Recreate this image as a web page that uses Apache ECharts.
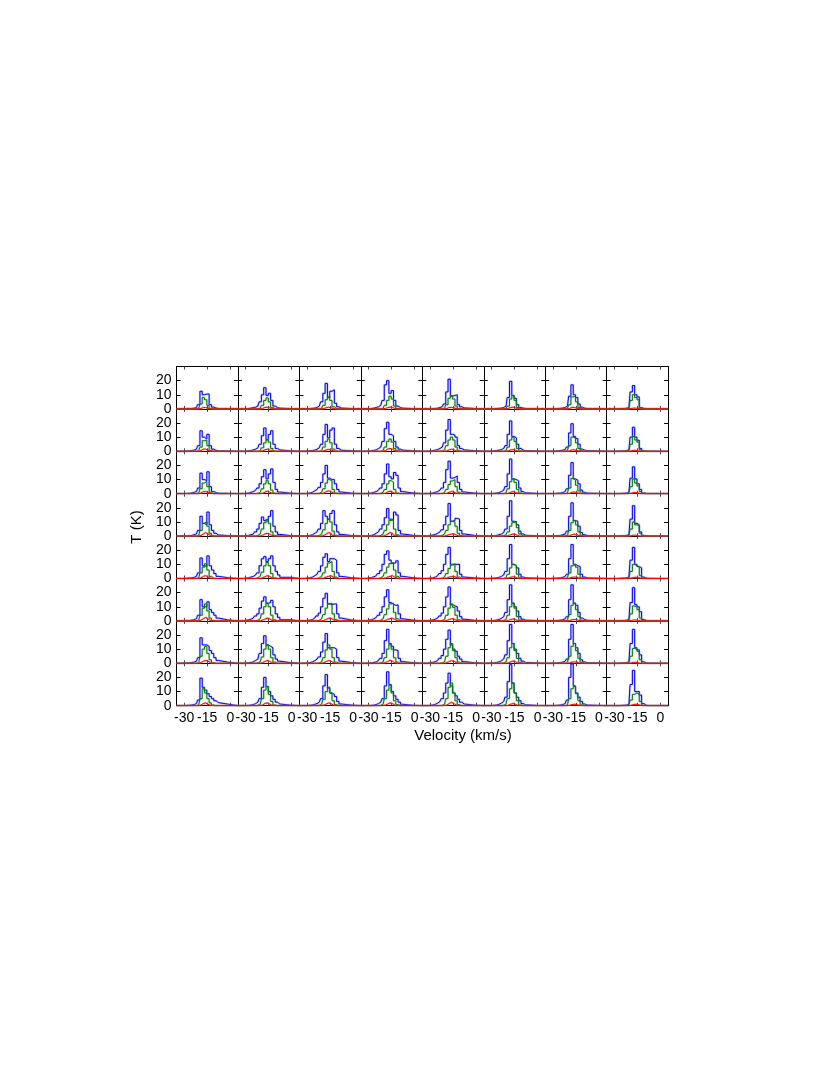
<!DOCTYPE html>
<html>
<head>
<meta charset="utf-8">
<script src="https://cdn.jsdelivr.net/npm/echarts@6/dist/echarts.min.js"></script>
<style>
html, body { margin: 0; padding: 0; background: #fff; }
#chart { width: 830px; height: 1074px; }
</style>
</head>
<body>
<div id="chart"></div>
<script>
// velocity channels (km/s) shared by all 64 panels
const velocity = [-28, -26.5, -25, -23.5, -22, -20.5, -19, -17.5, -16, -14.5, -13, -11.5, -10, -8.5, -7];
const xTicks = [-30, -15, 0];
const yTicks = [0, 10, 20];

// T (K), indexed [row][col][channel]
const blueSpectra = [
  [
    [0.2,0.3,0.3,0.5,1,3,12.5,10,10.5,10.5,3,1.2,0.6,0.3,0.2],
    [0.3,0.5,1,1.2,2,5,10,15,9.5,11,6,2,1,0.5,0.2],
    [0.2,0.4,0.6,1,2,5,11,18,8,12.5,13.5,4,1.5,0.6,0.2],
    [0.3,0.5,1,1.5,2.5,6,17,20,11,13,6,2,1,0.5,0.2],
    [0.2,0.3,0.5,1,1.5,3.5,12,21,9,9.5,10,3,1.5,0.7,0.3],
    [0.2,0.3,0.4,0.6,1,2,8,19.5,9.5,7.5,3,1,0.5,0.3,0.2],
    [0.2,0.3,0.4,0.6,1,2,9,17,10,8,3.5,1.2,0.5,0.3,0.2],
    [0,0.1,0.2,0.3,0.5,0.8,12,16.5,10,8.5,1,0.3,0.2,0.1,0]
  ],
  [
    [0.2,0.3,0.5,0.8,1.5,4,14.5,10,8.7,12,4,1.5,0.6,0.3,0.2],
    [0.3,0.5,1,1.5,2.5,5,11,16.5,8.3,12,14.5,5,2,1,0.3],
    [0.3,0.5,0.8,1.5,2.5,5,12,19,9.5,15,16.5,5,2,0.8,0.3],
    [0.3,0.6,1,2,3,7,16,20.5,12,11,7,3,1.5,0.8,0.3],
    [0.5,0.8,1.2,2,3,6,15,22.5,12,11.5,10,4,2,1,0.4],
    [0.3,0.5,0.8,1.2,2,4,12,21.5,10.5,9.5,5,2,0.8,0.4,0.2],
    [0.2,0.3,0.5,0.8,1.2,3,13,19.5,10.5,9,5,1.5,0.8,0.4,0.2],
    [0,0.1,0.2,0.3,0.5,1,10,17,10,7.8,2,0.3,0.2,0.1,0]
  ],
  [
    [0.2,0.3,0.5,1,1.5,4,14.5,10,9.2,15.5,5,1.5,0.8,0.3,0.2],
    [0.5,1,1.5,2.5,4,7,12,17,10.5,14,17.5,8,3,1.2,0.4],
    [0.5,1,2,3,4.5,8,14,20,11,10,10,7,3,1.2,0.4],
    [0.5,1,1.5,2.5,4,7,14,21,12,10.5,15,13,4,1.5,0.5],
    [0.5,1,1.5,2.5,4,8,17,23,11,11.5,12.5,8,3,1.2,0.4],
    [0.3,0.5,0.8,1.5,2.5,5,14,24.5,10.5,10,9,4,1.5,0.6,0.2],
    [0.2,0.3,0.5,0.8,1.5,3.5,13,22,10.5,9.5,7,2.5,1,0.4,0.2],
    [0,0.1,0.2,0.3,0.5,1,11,19,10.5,7,3,0.5,0.2,0.1,0]
  ],
  [
    [0.2,0.3,0.5,1,1.5,4,14,9,8,17,8,4,2,0.8,0.3],
    [0.5,1,1.5,3,5,9,13.5,11,10.5,14,18,7,3,1.2,0.4],
    [0.5,1,2,3,5,9,18,14,11.8,16,18,8,3,1.2,0.4],
    [0.5,1,2,3,5,8,13,19.5,12,11.5,17,15,4,1.5,0.5],
    [0.8,1.2,2,3,4.5,8,14,23,10.5,11,12.5,12,4,1.5,0.5],
    [0.3,0.5,1,1.5,2.5,5,14,25,10.5,10,8,3.5,1.5,0.6,0.2],
    [0.2,0.3,0.5,1,1.5,3.5,14,23.5,11,10.5,7,2.5,1,0.4,0.2],
    [0,0.1,0.2,0.3,0.5,1,12,21.5,9,8,3,0.5,0.2,0.1,0]
  ],
  [
    [0.2,0.3,0.5,0.8,1.5,4,14.5,9,8.5,16,9,6,3.5,1.5,0.5],
    [0.5,1,1.5,2.5,4,9,14,15.5,12,14,16,9,5,2.5,0.8],
    [0.5,1,2,3,5,9,15,17.5,12,14,14,13,4,1.5,0.5],
    [0.7,1.2,2,3.5,5.5,10,17,19.5,13,10.8,11,12.5,4,1.5,0.5],
    [0.5,1,2,3.5,5.5,10,17,22,10,10,10,10,3,1,0.4],
    [0.3,0.5,0.8,1.5,2.5,5,14,24,10,9,7.5,3,1,0.5,0.2],
    [0.2,0.3,0.5,0.8,1.5,3,14,24,10,9,8.5,3,1,0.4,0.2],
    [0,0.1,0.2,0.3,0.5,1,13,22,10,8.5,7.5,1,0.3,0.1,0]
  ],
  [
    [0.2,0.3,0.5,0.8,1.5,4,15,10,10,13.5,8,6,4,2,0.6],
    [0.7,1.2,2,3.5,5,9,14,17,12.5,13,14.5,10,5,2.5,0.8],
    [0.5,1,2,3.5,5.5,10,16,19.5,12,11.5,12,12,5,2,0.6],
    [0.8,1.5,2.5,4,6,10,17,22,13,11.8,11,11.3,5,1.5,0.5],
    [0.7,1.2,2,3.5,5.5,10,17,24,11.5,10.5,10,7,3,1.2,0.4],
    [0.3,0.6,1,1.8,3,6,15,25.5,12.5,10,7,3,1.2,0.5,0.2],
    [0.2,0.3,0.5,0.8,1.5,3,15,25.5,12.5,11,6,2,1,0.4,0.2],
    [0,0.1,0.2,0.3,0.5,1,13,23.5,11.5,10,6.5,1,0.3,0.1,0]
  ],
  [
    [0.2,0.3,0.5,0.8,1.5,4,18,13,13,12,9,7,4,2,0.7],
    [0.3,0.6,1,2,3,7,14,19.5,13,12,11,6,3,1.5,0.5],
    [0.5,1,1.8,3,4.5,8,15,21,11,11,11,10,4,1.5,0.5],
    [0.3,0.6,1,2,3.5,7,16,24,14,12,9.5,9,3.5,1.2,0.4],
    [0.7,1.2,2,3.5,5.5,10,17,23.5,13,10,8.5,5,3,1.2,0.4],
    [0.3,0.6,1,1.8,3,6,16,27.5,14,10,7,3.5,1.5,0.6,0.2],
    [0.2,0.3,0.5,0.8,1.5,3,17,27.5,14,11,7,2.5,1,0.4,0.2],
    [0,0.1,0.2,0.3,0.5,1,14,24,11,9.5,6,1,0.3,0.1,0]
  ],
  [
    [0.2,0.3,0.5,0.8,1.5,4,19.5,13,11,8.5,6.5,5,3.5,2.2,1],
    [0.2,0.4,0.8,1.5,2.5,5,13,20,13.5,10,7,4.5,2.5,1.2,0.4],
    [0.3,0.5,1,1.5,2.5,5,14,22,12.5,9,8,6.5,3,1.2,0.4],
    [0.2,0.4,0.8,1.5,2.5,5,14,24,15,10,7,4.5,2.5,1,0.3],
    [0.5,1,1.8,3,5,9,16,23,14,9,7,4.5,2.5,1.2,0.4],
    [0.3,0.5,1,1.8,3,6,17,29,16,9,6,3.5,1.5,0.6,0.2],
    [0.2,0.3,0.5,0.8,1.5,4,20,29.5,14,9,6,3,1.2,0.4,0.2],
    [0,0.1,0.2,0.3,0.5,1,15,25,10,10,7.5,1.5,0.3,0.1,0]
  ]
];

const greenSpectra = [
  [
    [0,0,0,0,0,0.5,3.5,8,6.5,2.5,0.3,0,0,0,0],
    [0,0,0,0,0,0.5,2.5,6,7.8,5,1,0,0,0,0],
    [0,0,0,0,0,0.5,2.5,6.5,8.5,6,1.5,0.2,0,0,0],
    [0,0,0,0,0,0.5,2.5,6,9,7,2,0.3,0,0,0],
    [0,0,0,0,0,0.5,3,7.5,9.4,7,2,0.3,0,0,0],
    [0,0,0,0,0,0.3,2,7,9.4,6,1,0,0,0,0],
    [0,0,0,0,0,0.3,3,8.5,9,5,1,0,0,0,0],
    [0,0,0,0,0,0.3,6,10,8,6.5,0.5,0,0,0,0]
  ],
  [
    [0,0,0,0,0,0.5,3,7.5,8,4,0.5,0,0,0,0],
    [0,0,0,0,0,0.5,2.5,6,8,6.5,2,0.3,0,0,0],
    [0,0,0,0,0,0.5,3,7,8.7,6,1.5,0.2,0,0,0],
    [0,0,0,0,0,0.5,3,7,8.7,6.5,2,0.3,0,0,0],
    [0,0,0,0,0.3,1,4,8,10,8,3,0.5,0,0,0],
    [0,0,0,0,0,0.5,3,8,10,7,2,0.3,0,0,0],
    [0,0,0,0,0,0.5,4,10,9.5,6,2,0.3,0,0,0],
    [0,0,0,0,0,0.5,5,10.5,8,6.5,1,0,0,0,0]
  ],
  [
    [0,0,0,0,0,0.5,3.5,7.5,8.7,5,1,0,0,0,0],
    [0,0,0,0,0.3,1,3.5,7,9.2,7,2.5,0.5,0,0,0],
    [0,0,0,0,0.3,1,3.5,7.5,10,9,3,0.5,0,0,0],
    [0,0,0,0,0.3,1,3,7,9.2,8,3,0.5,0,0,0],
    [0,0,0,0,0.3,1,3,6.5,9,10,5,1,0,0,0],
    [0,0,0,0,0,0.5,3.5,8.5,10.4,8,3,0.5,0,0,0],
    [0,0,0,0,0,0.5,4,10.8,9.5,6,2,0.3,0,0,0],
    [0,0,0,0,0,0.5,5,10.4,7.5,5.5,1.5,0,0,0,0]
  ],
  [
    [0,0,0,0,0,0.5,4,9,10.4,7,2,0.3,0,0,0],
    [0,0,0,0,0.5,1.5,5,9.5,11.8,9,3,0.5,0,0,0],
    [0,0,0,0,0.5,1.5,4.5,9,12,10,3.5,0.5,0,0,0],
    [0,0,0,0,0.5,1.5,4,8,11,11.5,5,1,0,0,0],
    [0,0,0,0,0.5,1.5,4,8,10.5,10,7,2,0.3,0,0],
    [0,0,0,0,0.3,1,3,7,9.5,10.4,6,1.5,0.2,0,0],
    [0,0,0,0,0,0.5,4,9.5,11,8,3,0.5,0,0,0],
    [0,0,0,0,0,0.5,5,10,8,7.5,2,0,0,0,0]
  ],
  [
    [0,0,0,0,0,0.5,4,8,10.4,6,1.5,0.2,0,0,0],
    [0,0,0,0,0.5,1.5,4.5,9,11.3,9,3.5,0.5,0,0,0],
    [0,0,0,0,0.5,1.5,4,8,11,12,5,1,0,0,0],
    [0,0,0,0,0.5,1.5,4,8,10.5,11.3,6,1.5,0.2,0,0],
    [0,0,0,0,0.3,1,3.5,7,9.5,10.4,5,1,0,0,0],
    [0,0,0,0,0,0.5,3,7.5,10,9,3,0.5,0,0,0],
    [0,0,0,0,0,0.5,4,9,10,8,3,0.5,0,0,0],
    [0,0,0,0,0,0.5,5,10,9,8,2,0,0,0,0]
  ],
  [
    [0,0,0,0,0,0.5,4,9,12,7,2,0.3,0,0,0],
    [0,0,0,0,0.5,1.5,5,10,12.5,10,4,0.8,0,0,0],
    [0,0,0,0,0.5,1.5,4.5,9,12,12.5,5,1,0,0,0],
    [0,0,0,0,0.5,1.5,4.5,8.5,12,12.5,6,1.5,0.2,0,0],
    [0,0,0,0,0.3,1,4,9,12,9.5,4,0.8,0,0,0],
    [0,0,0,0,0.3,1,4,10,12.5,9,3,0.5,0,0,0],
    [0,0,0,0,0,0.5,4.5,11,12.5,8,3,0.5,0,0,0],
    [0,0,0,0,0,0.5,5,10.5,10,8,2,0,0,0,0]
  ],
  [
    [0,0,0,0,0,0.5,5,10,12,7,2.5,0.5,0,0,0],
    [0,0,0,0,0.3,1,4.5,10,13,10,4,0.8,0,0,0],
    [0,0,0,0,0.3,1,4,9.5,13,10,4,0.8,0,0,0],
    [0,0,0,0,0.3,1,4,10,13.5,10,4,0.8,0,0,0],
    [0,0,0,0,0.3,1,5,11,14,9,4,0.8,0,0,0],
    [0,0,0,0,0.3,1,4,11,14,9,3.5,0.5,0,0,0],
    [0,0,0,0,0,0.5,5,12,14,9,3.5,0.5,0,0,0],
    [0,0,0,0,0,0.5,5,10.5,10,8.5,2.5,0,0,0,0]
  ],
  [
    [0,0,0,0,0,0.5,5,12,9,5,2,0.5,0,0,0],
    [0,0,0,0,0.3,1,5,11,13.5,8,3,0.5,0,0,0],
    [0,0,0,0,0.3,1,4.5,10,13,9,3.5,0.8,0,0,0],
    [0,0,0,0,0.3,1,5,11,14.5,9,3.5,0.8,0,0,0],
    [0,0,0,0,0.3,1,5,13,16,9,3.5,0.8,0,0,0],
    [0,0,0,0,0.3,1,5,12,16,9,3.5,0.5,0,0,0],
    [0,0,0,0,0,0.5,5,12,13.5,8.5,3.5,0.5,0,0,0],
    [0,0,0,0,0,0.5,4,8,9,8,3,0.3,0,0,0]
  ]
];

const redSpectra = [
  [
    [0,0,0,0,0,0,0.3,1,1,0.5,0,0,0,0,0],
    [0,0,0,0,0,0,0.3,1,1.2,0.8,0.2,0,0,0,0],
    [0,0,0,0,0,0,0.3,0.8,1.2,0.8,0.3,0,0,0,0],
    [0,0,0,0,0,0,0.3,0.8,1.3,1,0.3,0,0,0,0],
    [0,0,0,0,0,0,0.3,1,1,0.8,0.2,0,0,0,0],
    [0,0,0,0,0,0,0.3,1,1.2,0.8,0.2,0,0,0,0],
    [0,0,0,0,0,0,0.3,1,1,0.5,0.2,0,0,0,0],
    [0,0,0,0,0,0,0.3,0.5,0.5,0.3,0,0,0,0,0]
  ],
  [
    [0,0,0,0,0,0,0.5,1.5,1.5,0.8,0.2,0,0,0,0],
    [0,0,0,0,0,0,0.3,1,1.5,1,0.3,0,0,0,0],
    [0,0,0,0,0,0,0.3,1,1.3,1,0.3,0,0,0,0],
    [0,0,0,0,0,0,0.5,1.5,2,1.5,0.5,0,0,0,0],
    [0,0,0,0,0,0,0.3,1,1.5,1,0.3,0,0,0,0],
    [0,0,0,0,0,0,0.3,1,1.2,0.8,0.2,0,0,0,0],
    [0,0,0,0,0,0,0.3,1,1,0.6,0.2,0,0,0,0],
    [0,0,0,0,0,0,0.3,0.6,0.6,0.3,0,0,0,0,0]
  ],
  [
    [0,0,0,0,0,0,0.5,1.5,1.5,0.8,0.3,0,0,0,0],
    [0,0,0,0,0,0,0.3,1,1.8,1.2,0.3,0,0,0,0],
    [0,0,0,0,0,0,0.5,1.5,2,1.5,0.5,0,0,0,0],
    [0,0,0,0,0,0,0.3,1.2,1.8,1.2,0.3,0,0,0,0],
    [0,0,0,0,0,0,0.3,1,1.5,1.2,0.3,0,0,0,0],
    [0,0,0,0,0,0,0.3,1,1.5,1,0.3,0,0,0,0],
    [0,0,0,0,0,0,0.3,1,1.2,0.8,0.2,0,0,0,0],
    [0,0,0,0,0,0,0.3,0.8,0.8,0.5,0,0,0,0,0]
  ],
  [
    [0,0,0,0,0,0,0.5,1.5,2.5,1.5,0.5,0,0,0,0],
    [0,0,0,0,0,0,0.5,1.5,2,1.5,0.5,0,0,0,0],
    [0,0,0,0,0,0,0.5,1.5,2.5,2,0.5,0,0,0,0],
    [0,0,0,0,0,0,0.5,1.5,2.5,2,0.5,0,0,0,0],
    [0,0,0,0,0,0,0.5,1,1.5,1.5,0.8,0.2,0,0,0],
    [0,0,0,0,0,0,0.3,1,1.5,1.2,0.5,0,0,0,0],
    [0,0,0,0,0,0,0.3,1,1.3,1,0.3,0,0,0,0],
    [0,0,0,0,0,0,0.3,0.6,0.6,0.3,0,0,0,0,0]
  ],
  [
    [0,0,0,0,0,0,0.5,1.5,2,1.2,0.3,0,0,0,0],
    [0,0,0,0,0,0,0.5,1.2,2,1.5,0.5,0,0,0,0],
    [0,0,0,0,0,0,0.3,1,1.5,2,1,0.2,0,0,0],
    [0,0,0,0,0,0,0.3,1,1.5,2,1,0.2,0,0,0],
    [0,0,0,0,0,0,0.3,1,1.3,1.5,0.8,0.2,0,0,0],
    [0,0,0,0,0,0,0.3,0.8,1.2,1,0.3,0,0,0,0],
    [0,0,0,0,0,0,0.3,0.8,1,0.8,0.3,0,0,0,0],
    [0,0,0,0,0,0,0.3,0.6,0.8,0.6,0.2,0,0,0,0]
  ],
  [
    [0,0,0,0,0,0,0.5,1.5,2.5,1.5,0.3,0,0,0,0],
    [0,0,0,0,0,0,0.5,1.2,2,1.5,0.5,0,0,0,0],
    [0,0,0,0,0,0,0.3,1,1.8,2,0.8,0.2,0,0,0],
    [0,0,0,0,0,0,0.3,1,1.5,2,1,0.2,0,0,0],
    [0,0,0,0,0,0,0.3,1,1.5,1.3,0.5,0,0,0,0],
    [0,0,0,0,0,0,0.3,1,1.3,1,0.3,0,0,0,0],
    [0,0,0,0,0,0,0.3,0.8,1,0.8,0.3,0,0,0,0],
    [0,0,0,0,0,0,0.3,0.6,0.6,0.3,0,0,0,0,0]
  ],
  [
    [0,0,0,0,0,0,0.5,1.5,2,1.5,0.5,0,0,0,0],
    [0,0,0,0,0,0,0.5,1.2,2,1.5,0.5,0,0,0,0],
    [0,0,0,0,0,0,0.5,1.2,2,1.5,0.5,0,0,0,0],
    [0,0,0,0,0,0,0.5,1.2,2.2,1.5,0.5,0,0,0,0],
    [0,0,0,0,0,0,0.5,1.2,1.8,1.5,0.5,0,0,0,0],
    [0,0,0,0,0,0,0.3,1,1.5,1.2,0.3,0,0,0,0],
    [0,0,0,0,0,0,0.3,0.8,1,0.8,0.3,0,0,0,0],
    [0,0,0,0,0,0,0.3,0.6,0.6,0.3,0,0,0,0,0]
  ],
  [
    [0,0,0,0,0,0,0.5,1.5,2,1,0.3,0,0,0,0],
    [0,0,0,0,0,0,0.5,1.5,2,1.2,0.3,0,0,0,0],
    [0,0,0,0,0,0,0.5,1.2,2,1.5,0.5,0,0,0,0],
    [0,0,0,0,0,0,0.5,1.2,2,1.5,0.5,0,0,0,0],
    [0,0,0,0,0,0,0.5,1.5,2.5,1.5,0.5,0,0,0,0],
    [0,0,0,0,0,0,0.3,1,1.5,1,0.3,0,0,0,0],
    [0,0,0,0,0,0,0.3,0.8,1,0.8,0.3,0,0,0,0],
    [0,0,0,0,0,0,0.3,0.8,1,0.8,0.3,0,0,0,0]
  ]
];

const vMin = -35, vMax = 5;
const tMin = 0, tMax = 30;

// panel layout (px)
const left0 = 176.5, top0 = 366.5, panelW = 61.45, panelH = 42.4;
const nRows = 8, nCols = 8;
const font = '"Liberation Sans", Arial, sans-serif';

const chart = echarts.init(document.getElementById('chart'));

function toPairs(vals) {
  const pts = [[vMin, 0]];
  velocity.forEach((v, i) => pts.push([v, vals[i]]));
  pts.push([vMax, 0]);
  return pts;
}

const grid = [], xAxis = [], yAxis = [], series = [];

const lineStyles = [
  { key: 'blue', halo: 'rgba(90,90,255,0.32)', color: '#0000f0' },
  { key: 'green', halo: 'rgba(70,170,70,0.3)', color: '#007800' },
  { key: 'red', halo: 'rgba(255,80,80,0.4)', color: '#ff0000' }
];
const spectra = { blue: blueSpectra, green: greenSpectra, red: redSpectra };

for (let r = 0; r < nRows; r++) {
  for (let c = 0; c < nCols; c++) {
    const g = r * nCols + c;
    grid.push({
      left: left0 + c * panelW,
      top: top0 + r * panelH,
      width: panelW,
      height: panelH,
      outerBoundsMode: 'none'
    });
    ['bottom', 'top'].forEach(pos => {
      xAxis.push({
        gridIndex: g,
        type: 'value',
        position: pos,
        min: vMin,
        max: vMax,
        axisLine: { show: true, onZero: false, lineStyle: { color: '#000', width: 1 } },
        axisTick: { show: true, inside: true, length: 3, customValues: xTicks, lineStyle: { color: '#444' } },
        axisLabel: {
          show: pos === 'bottom' && r === nRows - 1,
          customValues: xTicks,
          margin: 5,
          color: '#000',
          fontSize: 14,
          fontFamily: font
        },
        splitLine: { show: false }
      });
    });
    ['left', 'right'].forEach(pos => {
      yAxis.push({
        gridIndex: g,
        type: 'value',
        position: pos,
        min: tMin,
        max: tMax,
        axisLine: { show: true, onZero: false, lineStyle: { color: '#000', width: 1 } },
        axisTick: { show: true, inside: true, length: 4, customValues: [10, 20], lineStyle: { color: '#000' } },
        axisLabel: {
          show: pos === 'left' && c === 0,
          customValues: yTicks,
          margin: 5,
          color: '#000',
          fontSize: 14,
          fontFamily: font
        },
        splitLine: { show: false }
      });
    });
    lineStyles.forEach(st => {
      const data = toPairs(spectra[st.key][r][c]);
      series.push({
        type: 'line', xAxisIndex: g * 2, yAxisIndex: g * 2, step: 'middle',
        symbol: 'none', silent: true, data: data,
        lineStyle: { color: st.halo, width: 2.2 }
      });
      series.push({
        type: 'line', xAxisIndex: g * 2, yAxisIndex: g * 2, step: 'middle',
        symbol: 'none', silent: true, data: data,
        lineStyle: { color: st.color, width: 1 }
      });
    });
  }
}

chart.setOption({
  animation: false,
  backgroundColor: '#fff',
  grid: grid,
  xAxis: xAxis,
  yAxis: yAxis,
  series: series,
  graphic: [
    {
      type: 'text', x: 137, y: 527, rotation: Math.PI / 2,
      style: { text: 'T (K)', font: '15px ' + font, fill: '#000',
        textAlign: 'center', textVerticalAlign: 'middle', align: 'center', verticalAlign: 'middle' }
    },
    {
      type: 'text', x: 463, y: 736,
      style: { text: 'Velocity (km/s)', font: '15px ' + font, fill: '#000',
        textAlign: 'center', textVerticalAlign: 'middle', align: 'center', verticalAlign: 'middle' }
    }
  ]
});
window.onresize = chart.resize;
</script>
</body>
</html>
